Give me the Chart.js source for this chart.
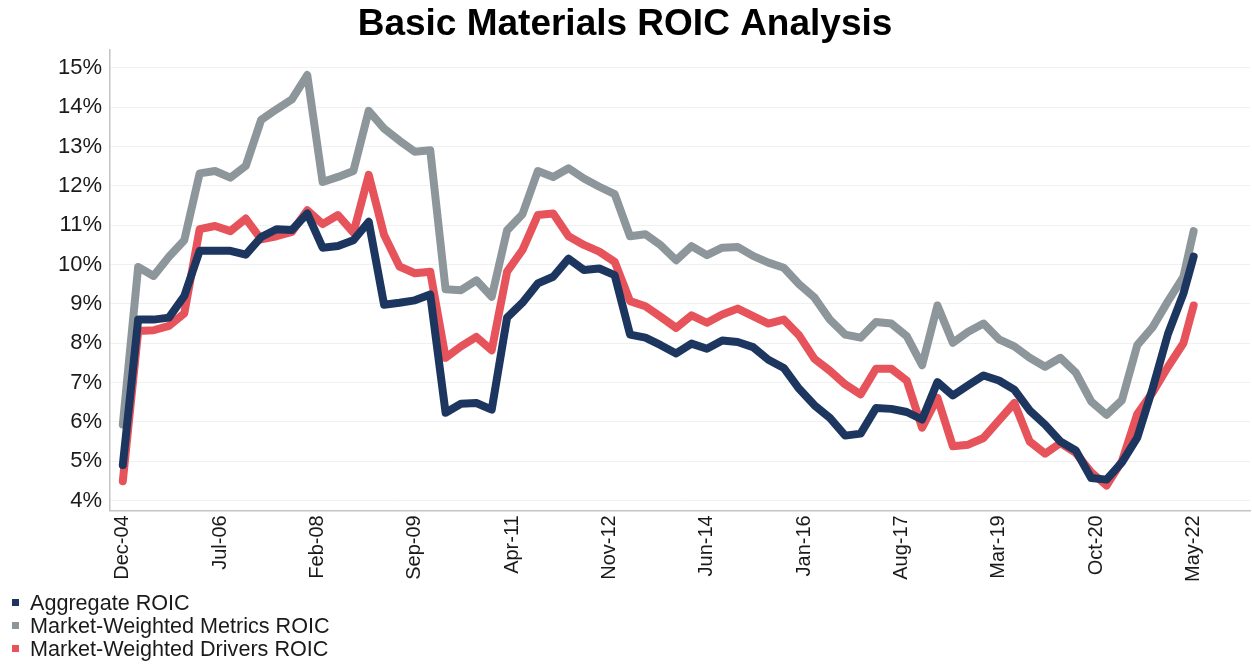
<!DOCTYPE html>
<html>
<head>
<meta charset="utf-8">
<title>Basic Materials ROIC Analysis</title>
<script src="https://cdn.jsdelivr.net/npm/chart.js@4/dist/chart.umd.min.js"></script>
<style>
  html, body { margin: 0; padding: 0; background: #ffffff; }
  #wrap { position: relative; width: 1252px; height: 665px; }
  #legend {
    position: absolute; left: 12px; top: 591px;
    font-family: "Liberation Sans", Arial, sans-serif; font-size: 21.6px; color: #1a1a1a;
  }
  #legend .item { height: 23px; line-height: 23px; display: flex; align-items: center; white-space: nowrap; }
  #legend .box { width: 7px; height: 7px; margin-right: 11px; flex: none; }
</style>
</head>
<body>
<div id="wrap">
  <canvas id="chart" width="1252" height="665"></canvas>
  <div id="legend"></div>
</div>
<script>
// Quarter-end periods (the last point is May 2022)
const periods = [
  'Dec-04',
  'Mar-05','Jun-05','Sep-05','Dec-05',
  'Mar-06','Jun-06','Sep-06','Dec-06',
  'Mar-07','Jun-07','Sep-07','Dec-07',
  'Mar-08','Jun-08','Sep-08','Dec-08',
  'Mar-09','Jun-09','Sep-09','Dec-09',
  'Mar-10','Jun-10','Sep-10','Dec-10',
  'Mar-11','Jun-11','Sep-11','Dec-11',
  'Mar-12','Jun-12','Sep-12','Dec-12',
  'Mar-13','Jun-13','Sep-13','Dec-13',
  'Mar-14','Jun-14','Sep-14','Dec-14',
  'Mar-15','Jun-15','Sep-15','Dec-15',
  'Mar-16','Jun-16','Sep-16','Dec-16',
  'Mar-17','Jun-17','Sep-17','Dec-17',
  'Mar-18','Jun-18','Sep-18','Dec-18',
  'Mar-19','Jun-19','Sep-19','Dec-19',
  'Mar-20','Jun-20','Sep-20','Dec-20',
  'Mar-21','Jun-21','Sep-21','Dec-21',
  'Mar-22','May-22'
];

// ROIC, percent
const aggregateROIC = [
  4.90, 8.60, 8.60, 8.65, 9.20, 10.35, 10.35, 10.35, 10.25, 10.70,
  10.90, 10.88, 11.30, 10.43, 10.47, 10.62, 11.09, 8.98, 9.03, 9.09,
  9.24, 6.23, 6.46, 6.48, 6.31, 8.65, 9.03, 9.52, 9.69, 10.15,
  9.86, 9.90, 9.73, 8.22, 8.14, 7.95, 7.74, 7.99, 7.86, 8.07,
  8.03, 7.90, 7.58, 7.37, 6.84, 6.42, 6.10, 5.65, 5.70, 6.35,
  6.33, 6.25, 6.06, 7.01, 6.67, 6.93, 7.18, 7.05, 6.82, 6.29,
  5.93, 5.50, 5.27, 4.57, 4.53, 4.97, 5.60, 6.85, 8.24, 9.26,
  10.20
];

const metricsROIC = [
  5.93, 9.94, 9.71, 10.20, 10.62, 12.32, 12.38, 12.21, 12.51, 13.68,
  13.95, 14.20, 14.82, 12.10, 12.23, 12.38, 13.91, 13.46, 13.15, 12.87,
  12.91, 9.37, 9.35, 9.60, 9.18, 10.87, 11.28, 12.38, 12.23, 12.45,
  12.19, 11.98, 11.79, 10.72, 10.77, 10.49, 10.11, 10.47, 10.24, 10.43,
  10.45, 10.22, 10.05, 9.92, 9.50, 9.16, 8.60, 8.22, 8.14, 8.54,
  8.50, 8.18, 7.44, 8.96, 8.01, 8.29, 8.50, 8.10, 7.92, 7.63,
  7.40, 7.63, 7.25, 6.52, 6.18, 6.55, 7.95, 8.41, 9.07, 9.69,
  10.85
];

const driversROIC = [
  4.49, 8.31, 8.33, 8.44, 8.76, 10.90, 10.98, 10.85, 11.17, 10.64,
  10.72, 10.83, 11.38, 11.03, 11.26, 10.81, 12.28, 10.75, 9.95, 9.78,
  9.82, 7.63, 7.92, 8.16, 7.82, 9.82, 10.37, 11.26, 11.30, 10.72,
  10.50, 10.33, 10.07, 9.07, 8.94, 8.67, 8.39, 8.71, 8.52, 8.73,
  8.88, 8.69, 8.50, 8.60, 8.20, 7.60, 7.30, 6.95, 6.70, 7.35,
  7.35, 7.05, 5.85, 6.61, 5.38, 5.42, 5.59, 6.04, 6.48, 5.50,
  5.19, 5.46, 5.21, 4.72, 4.38, 5.00, 6.20, 6.75, 7.40, 8.00,
  8.96
];

// Axis labels
const xTickLabels = ['Dec-04','Jul-06','Feb-08','Sep-09','Apr-11','Nov-12',
                     'Jun-14','Jan-16','Aug-17','Mar-19','Oct-20','May-22'];
const yTickValues = [4, 5, 6, 7, 8, 9, 10, 11, 12, 13, 14, 15];

const seriesNames = ['Aggregate ROIC', 'Market-Weighted Metrics ROIC', 'Market-Weighted Drivers ROIC'];
const seriesColors = ['#1d3660', '#8d969a', '#e6535a'];

// "Mmm-YY" -> months since Dec-04, so the x axis is a true time line
const MONTHS = ['Jan','Feb','Mar','Apr','May','Jun','Jul','Aug','Sep','Oct','Nov','Dec'];
function monthIndex(label) {
  const [m, y] = label.split('-');
  return (2000 + parseInt(y, 10)) * 12 + MONTHS.indexOf(m) - (2004 * 12 + 11);
}
const periodX = periods.map(monthIndex);
const tickX = xTickLabels.map(monthIndex);

function toPoints(values) {
  return values.map((v, i) => ({ x: periodX[i], y: v }));
}

const FONT = '"Liberation Sans", Arial, Helvetica, sans-serif';

const datasets = [aggregateROIC, metricsROIC, driversROIC].map((vals, i) => ({
  label: seriesNames[i],
  data: toPoints(vals),
  borderColor: seriesColors[i],
  backgroundColor: seriesColors[i],
  borderWidth: 8,
  borderJoinStyle: 'round',
  borderCapStyle: 'round',
  pointRadius: 0,
  pointHoverRadius: 0,
  tension: 0,
  fill: false
}));

const chart = new Chart(document.getElementById('chart'), {
  type: 'line',
  data: { datasets },
  options: {
    responsive: false,
    animation: false,
    devicePixelRatio: 1,
    layout: { padding: { left: 0, right: 2, top: 0, bottom: 78 } },
    plugins: {
      legend: { display: false },
      tooltip: { enabled: false },
      title: {
        display: true,
        text: 'Basic Materials ROIC Analysis',
        color: '#000000',
        font: { family: FONT, size: 37, weight: 'bold' },
        padding: { top: 2.5, bottom: 3 }
      }
    },
    scales: {
      x: {
        type: 'linear',
        min: -2.5,
        max: 220,
        afterBuildTicks: axis => { axis.ticks = tickX.map(v => ({ value: v })); },
        grid: { display: false, drawTicks: false },
        border: { display: true, color: '#c4c4c4', width: 1.5 },
        ticks: {
          autoSkip: false,
          minRotation: 90,
          maxRotation: 90,
          padding: 5,
          color: '#1a1a1a',
          font: { family: FONT, size: 20 },
          callback: v => xTickLabels[tickX.indexOf(v)]
        }
      },
      y: {
        min: 3.75,
        max: 15.46,
        afterBuildTicks: axis => { axis.ticks = yTickValues.map(v => ({ value: v })); },
        afterFit: axis => { axis.width = 110; },
        grid: { color: '#f0f0f0', lineWidth: 1, drawTicks: false },
        border: { display: true, color: '#c4c4c4', width: 1.5 },
        ticks: {
          padding: 8,
          color: '#1a1a1a',
          font: { family: FONT, size: 22 },
          callback: v => v + '%'
        }
      }
    }
  }
});

// Vertical legend under the axis, built from the chart's datasets
const legendEl = document.getElementById('legend');
chart.data.datasets.forEach(ds => {
  const row = document.createElement('div');
  row.className = 'item';
  const box = document.createElement('span');
  box.className = 'box';
  box.style.background = ds.borderColor;
  const txt = document.createElement('span');
  txt.textContent = ds.label;
  row.appendChild(box);
  row.appendChild(txt);
  legendEl.appendChild(row);
});
</script>
</body>
</html>
